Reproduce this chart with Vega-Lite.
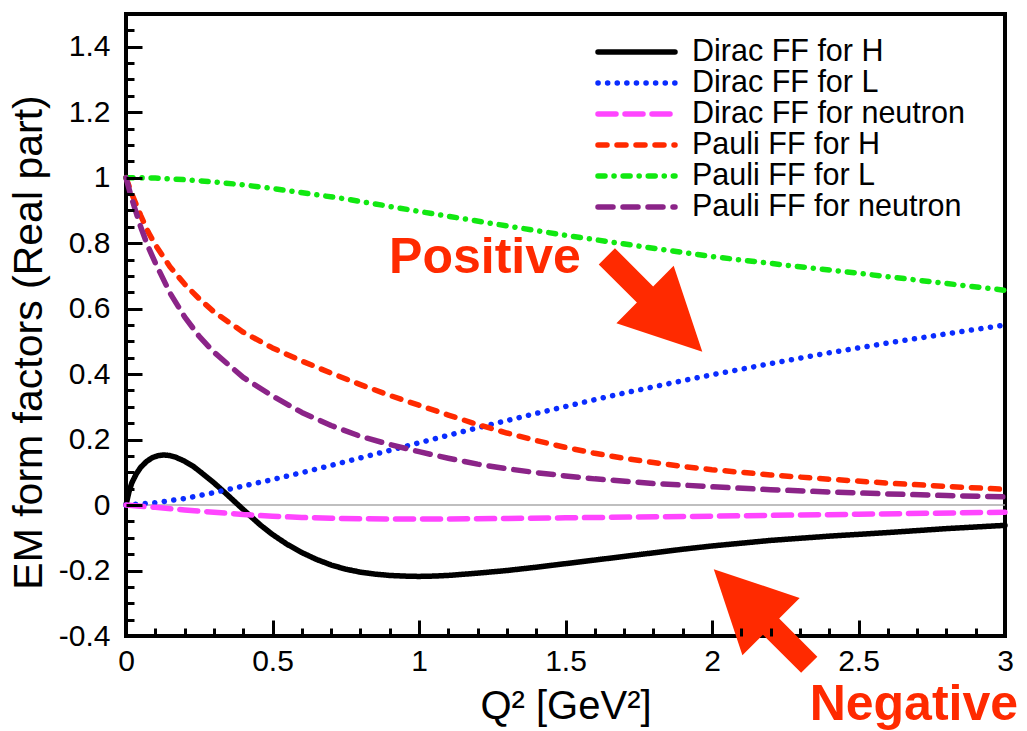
{
  "$schema": "https://vega.github.io/schema/vega-lite/v6.json",
  "width": 879,
  "height": 622,
  "autosize": {"type": "none"},
  "padding": {"left": 126, "top": 14, "right": 22, "bottom": 95},
  "background": "white",
  "config": {
    "font": "Liberation Sans",
    "view": {"stroke": "black", "strokeWidth": 4},
    "axis": {
      "grid": false, "domain": false, "ticks": true, "tickColor": "black", "tickWidth": 3,
      "labelFont": "Liberation Sans", "labelColor": "black",
      "titleFont": "Liberation Sans", "titleFontWeight": "normal", "titleColor": "black"
    }
  },
  "datasets": {
    "curves": [
      {"series": "Dirac FF for H", "Q2": 0, "F": 0},
      {"series": "Dirac FF for H", "Q2": 0.01, "F": 0.04},
      {"series": "Dirac FF for H", "Q2": 0.02, "F": 0.068},
      {"series": "Dirac FF for H", "Q2": 0.035, "F": 0.095},
      {"series": "Dirac FF for H", "Q2": 0.05, "F": 0.115},
      {"series": "Dirac FF for H", "Q2": 0.07, "F": 0.133},
      {"series": "Dirac FF for H", "Q2": 0.09, "F": 0.145},
      {"series": "Dirac FF for H", "Q2": 0.11, "F": 0.151},
      {"series": "Dirac FF for H", "Q2": 0.13, "F": 0.153},
      {"series": "Dirac FF for H", "Q2": 0.15, "F": 0.151},
      {"series": "Dirac FF for H", "Q2": 0.17, "F": 0.146},
      {"series": "Dirac FF for H", "Q2": 0.2, "F": 0.134},
      {"series": "Dirac FF for H", "Q2": 0.23, "F": 0.118},
      {"series": "Dirac FF for H", "Q2": 0.26, "F": 0.097},
      {"series": "Dirac FF for H", "Q2": 0.3, "F": 0.068},
      {"series": "Dirac FF for H", "Q2": 0.34, "F": 0.036},
      {"series": "Dirac FF for H", "Q2": 0.38, "F": 0.003},
      {"series": "Dirac FF for H", "Q2": 0.42, "F": -0.03},
      {"series": "Dirac FF for H", "Q2": 0.46, "F": -0.062},
      {"series": "Dirac FF for H", "Q2": 0.5, "F": -0.09},
      {"series": "Dirac FF for H", "Q2": 0.55, "F": -0.12},
      {"series": "Dirac FF for H", "Q2": 0.6, "F": -0.145},
      {"series": "Dirac FF for H", "Q2": 0.65, "F": -0.166},
      {"series": "Dirac FF for H", "Q2": 0.7, "F": -0.183},
      {"series": "Dirac FF for H", "Q2": 0.75, "F": -0.196},
      {"series": "Dirac FF for H", "Q2": 0.8, "F": -0.205},
      {"series": "Dirac FF for H", "Q2": 0.85, "F": -0.211},
      {"series": "Dirac FF for H", "Q2": 0.9, "F": -0.215},
      {"series": "Dirac FF for H", "Q2": 0.95, "F": -0.217},
      {"series": "Dirac FF for H", "Q2": 1.0, "F": -0.218},
      {"series": "Dirac FF for H", "Q2": 1.05, "F": -0.217},
      {"series": "Dirac FF for H", "Q2": 1.1, "F": -0.215},
      {"series": "Dirac FF for H", "Q2": 1.2, "F": -0.208},
      {"series": "Dirac FF for H", "Q2": 1.3, "F": -0.2},
      {"series": "Dirac FF for H", "Q2": 1.4, "F": -0.19},
      {"series": "Dirac FF for H", "Q2": 1.5, "F": -0.179},
      {"series": "Dirac FF for H", "Q2": 1.6, "F": -0.168},
      {"series": "Dirac FF for H", "Q2": 1.7, "F": -0.157},
      {"series": "Dirac FF for H", "Q2": 1.8, "F": -0.146},
      {"series": "Dirac FF for H", "Q2": 1.9, "F": -0.135},
      {"series": "Dirac FF for H", "Q2": 2.0, "F": -0.125},
      {"series": "Dirac FF for H", "Q2": 2.2, "F": -0.108},
      {"series": "Dirac FF for H", "Q2": 2.4, "F": -0.095},
      {"series": "Dirac FF for H", "Q2": 2.6, "F": -0.084},
      {"series": "Dirac FF for H", "Q2": 2.8, "F": -0.072},
      {"series": "Dirac FF for H", "Q2": 3.0, "F": -0.062},

      {"series": "Dirac FF for L", "Q2": 0, "F": 0},
      {"series": "Dirac FF for L", "Q2": 0.1, "F": 0.007},
      {"series": "Dirac FF for L", "Q2": 0.2, "F": 0.02},
      {"series": "Dirac FF for L", "Q2": 0.3, "F": 0.038},
      {"series": "Dirac FF for L", "Q2": 0.4, "F": 0.058},
      {"series": "Dirac FF for L", "Q2": 0.5, "F": 0.078},
      {"series": "Dirac FF for L", "Q2": 0.6, "F": 0.099},
      {"series": "Dirac FF for L", "Q2": 0.7, "F": 0.121},
      {"series": "Dirac FF for L", "Q2": 0.8, "F": 0.144},
      {"series": "Dirac FF for L", "Q2": 0.9, "F": 0.167},
      {"series": "Dirac FF for L", "Q2": 1.0, "F": 0.19},
      {"series": "Dirac FF for L", "Q2": 1.1, "F": 0.213},
      {"series": "Dirac FF for L", "Q2": 1.2, "F": 0.236},
      {"series": "Dirac FF for L", "Q2": 1.3, "F": 0.258},
      {"series": "Dirac FF for L", "Q2": 1.4, "F": 0.28},
      {"series": "Dirac FF for L", "Q2": 1.5, "F": 0.301},
      {"series": "Dirac FF for L", "Q2": 1.6, "F": 0.322},
      {"series": "Dirac FF for L", "Q2": 1.7, "F": 0.342},
      {"series": "Dirac FF for L", "Q2": 1.8, "F": 0.361},
      {"series": "Dirac FF for L", "Q2": 1.9, "F": 0.38},
      {"series": "Dirac FF for L", "Q2": 2.0, "F": 0.398},
      {"series": "Dirac FF for L", "Q2": 2.2, "F": 0.432},
      {"series": "Dirac FF for L", "Q2": 2.4, "F": 0.465},
      {"series": "Dirac FF for L", "Q2": 2.6, "F": 0.495},
      {"series": "Dirac FF for L", "Q2": 2.8, "F": 0.523},
      {"series": "Dirac FF for L", "Q2": 3.0, "F": 0.55},

      {"series": "Dirac FF for neutron", "Q2": 0, "F": 0},
      {"series": "Dirac FF for neutron", "Q2": 0.1, "F": -0.007},
      {"series": "Dirac FF for neutron", "Q2": 0.2, "F": -0.015},
      {"series": "Dirac FF for neutron", "Q2": 0.3, "F": -0.022},
      {"series": "Dirac FF for neutron", "Q2": 0.4, "F": -0.029},
      {"series": "Dirac FF for neutron", "Q2": 0.5, "F": -0.034},
      {"series": "Dirac FF for neutron", "Q2": 0.6, "F": -0.038},
      {"series": "Dirac FF for neutron", "Q2": 0.7, "F": -0.04},
      {"series": "Dirac FF for neutron", "Q2": 0.8, "F": -0.042},
      {"series": "Dirac FF for neutron", "Q2": 1.0, "F": -0.043},
      {"series": "Dirac FF for neutron", "Q2": 1.2, "F": -0.042},
      {"series": "Dirac FF for neutron", "Q2": 1.5, "F": -0.039},
      {"series": "Dirac FF for neutron", "Q2": 2.0, "F": -0.034},
      {"series": "Dirac FF for neutron", "Q2": 2.5, "F": -0.028},
      {"series": "Dirac FF for neutron", "Q2": 3.0, "F": -0.022},

      {"series": "Pauli FF for H", "Q2": 0, "F": 1.0},
      {"series": "Pauli FF for H", "Q2": 0.02, "F": 0.95},
      {"series": "Pauli FF for H", "Q2": 0.05, "F": 0.885},
      {"series": "Pauli FF for H", "Q2": 0.075, "F": 0.835},
      {"series": "Pauli FF for H", "Q2": 0.1, "F": 0.795},
      {"series": "Pauli FF for H", "Q2": 0.15, "F": 0.728},
      {"series": "Pauli FF for H", "Q2": 0.2, "F": 0.675},
      {"series": "Pauli FF for H", "Q2": 0.25, "F": 0.63},
      {"series": "Pauli FF for H", "Q2": 0.3, "F": 0.59},
      {"series": "Pauli FF for H", "Q2": 0.4, "F": 0.528},
      {"series": "Pauli FF for H", "Q2": 0.5, "F": 0.48},
      {"series": "Pauli FF for H", "Q2": 0.6, "F": 0.44},
      {"series": "Pauli FF for H", "Q2": 0.7, "F": 0.403},
      {"series": "Pauli FF for H", "Q2": 0.8, "F": 0.368},
      {"series": "Pauli FF for H", "Q2": 0.9, "F": 0.335},
      {"series": "Pauli FF for H", "Q2": 1.0, "F": 0.305},
      {"series": "Pauli FF for H", "Q2": 1.1, "F": 0.275},
      {"series": "Pauli FF for H", "Q2": 1.2, "F": 0.246},
      {"series": "Pauli FF for H", "Q2": 1.3, "F": 0.22},
      {"series": "Pauli FF for H", "Q2": 1.4, "F": 0.197},
      {"series": "Pauli FF for H", "Q2": 1.5, "F": 0.176},
      {"series": "Pauli FF for H", "Q2": 1.6, "F": 0.158},
      {"series": "Pauli FF for H", "Q2": 1.7, "F": 0.143},
      {"series": "Pauli FF for H", "Q2": 1.8, "F": 0.13},
      {"series": "Pauli FF for H", "Q2": 1.9, "F": 0.118},
      {"series": "Pauli FF for H", "Q2": 2.0, "F": 0.108},
      {"series": "Pauli FF for H", "Q2": 2.2, "F": 0.092},
      {"series": "Pauli FF for H", "Q2": 2.4, "F": 0.079},
      {"series": "Pauli FF for H", "Q2": 2.6, "F": 0.067},
      {"series": "Pauli FF for H", "Q2": 2.8, "F": 0.057},
      {"series": "Pauli FF for H", "Q2": 3.0, "F": 0.048},

      {"series": "Pauli FF for L", "Q2": 0, "F": 1.0},
      {"series": "Pauli FF for L", "Q2": 0.1, "F": 0.999},
      {"series": "Pauli FF for L", "Q2": 0.2, "F": 0.994},
      {"series": "Pauli FF for L", "Q2": 0.3, "F": 0.987},
      {"series": "Pauli FF for L", "Q2": 0.4, "F": 0.978},
      {"series": "Pauli FF for L", "Q2": 0.5, "F": 0.967},
      {"series": "Pauli FF for L", "Q2": 0.75, "F": 0.935},
      {"series": "Pauli FF for L", "Q2": 1.0, "F": 0.897},
      {"series": "Pauli FF for L", "Q2": 1.25, "F": 0.86},
      {"series": "Pauli FF for L", "Q2": 1.5, "F": 0.824},
      {"series": "Pauli FF for L", "Q2": 1.75, "F": 0.791},
      {"series": "Pauli FF for L", "Q2": 2.0, "F": 0.759},
      {"series": "Pauli FF for L", "Q2": 2.25, "F": 0.733},
      {"series": "Pauli FF for L", "Q2": 2.5, "F": 0.708},
      {"series": "Pauli FF for L", "Q2": 2.75, "F": 0.682},
      {"series": "Pauli FF for L", "Q2": 3.0, "F": 0.656},

      {"series": "Pauli FF for neutron", "Q2": 0, "F": 1.0},
      {"series": "Pauli FF for neutron", "Q2": 0.02, "F": 0.935},
      {"series": "Pauli FF for neutron", "Q2": 0.05, "F": 0.85},
      {"series": "Pauli FF for neutron", "Q2": 0.075, "F": 0.79},
      {"series": "Pauli FF for neutron", "Q2": 0.1, "F": 0.74},
      {"series": "Pauli FF for neutron", "Q2": 0.15, "F": 0.648},
      {"series": "Pauli FF for neutron", "Q2": 0.2, "F": 0.575},
      {"series": "Pauli FF for neutron", "Q2": 0.25, "F": 0.515},
      {"series": "Pauli FF for neutron", "Q2": 0.3, "F": 0.467},
      {"series": "Pauli FF for neutron", "Q2": 0.4, "F": 0.39},
      {"series": "Pauli FF for neutron", "Q2": 0.5, "F": 0.333},
      {"series": "Pauli FF for neutron", "Q2": 0.6, "F": 0.283},
      {"series": "Pauli FF for neutron", "Q2": 0.7, "F": 0.243},
      {"series": "Pauli FF for neutron", "Q2": 0.8, "F": 0.21},
      {"series": "Pauli FF for neutron", "Q2": 0.9, "F": 0.185},
      {"series": "Pauli FF for neutron", "Q2": 1.0, "F": 0.163},
      {"series": "Pauli FF for neutron", "Q2": 1.1, "F": 0.143},
      {"series": "Pauli FF for neutron", "Q2": 1.2, "F": 0.125},
      {"series": "Pauli FF for neutron", "Q2": 1.3, "F": 0.111},
      {"series": "Pauli FF for neutron", "Q2": 1.4, "F": 0.099},
      {"series": "Pauli FF for neutron", "Q2": 1.5, "F": 0.089},
      {"series": "Pauli FF for neutron", "Q2": 1.6, "F": 0.08},
      {"series": "Pauli FF for neutron", "Q2": 1.8, "F": 0.066},
      {"series": "Pauli FF for neutron", "Q2": 2.0, "F": 0.056},
      {"series": "Pauli FF for neutron", "Q2": 2.2, "F": 0.047},
      {"series": "Pauli FF for neutron", "Q2": 2.4, "F": 0.04},
      {"series": "Pauli FF for neutron", "Q2": 2.6, "F": 0.034},
      {"series": "Pauli FF for neutron", "Q2": 2.8, "F": 0.029},
      {"series": "Pauli FF for neutron", "Q2": 3.0, "F": 0.025}
    ]
  },
  "encoding": {
    "x": {
      "field": "Q2", "type": "quantitative",
      "scale": {"domain": [0, 3], "nice": false, "zero": false},
      "axis": {
        "title": "Q² [GeV²]",
        "values": [0,0.1,0.2,0.3,0.4,0.5,0.6,0.7,0.8,0.9,1,1.1,1.2,1.3,1.4,1.5,1.6,1.7,1.8,1.9,2,2.1,2.2,2.3,2.4,2.5,2.6,2.7,2.8,2.9,3],
        "labelExpr": "abs(datum.value*2 - round(datum.value*2)) < 0.000001 ? toString(round(datum.value*10)/10) : ''",
        "tickSize": {"condition": {"test": "abs(datum.value*2 - round(datum.value*2)) < 0.000001", "value": -16}, "value": -8},
        "zindex": 1,
        "labelOverlap": "greedy", "labelFlush": false, "labelBound": false,
        "labelFontSize": 30, "titleFontSize": 40,
        "labelPadding": 26,
        "titlePadding": 10
      }
    },
    "y": {
      "field": "F", "type": "quantitative",
      "scale": {"domain": [-0.4, 1.5], "nice": false, "zero": false},
      "axis": {
        "title": "EM form factors (Real part)",
        "values": [-0.4,-0.35,-0.3,-0.25,-0.2,-0.15,-0.1,-0.05,0,0.05,0.1,0.15,0.2,0.25,0.3,0.35,0.4,0.45,0.5,0.55,0.6,0.65,0.7,0.75,0.8,0.85,0.9,0.95,1,1.05,1.1,1.15,1.2,1.25,1.3,1.35,1.4,1.45],
        "labelExpr": "abs(datum.value*5 - round(datum.value*5)) < 0.000001 ? toString(round(datum.value*10)/10) : ''",
        "tickSize": {"condition": {"test": "abs(datum.value*5 - round(datum.value*5)) < 0.000001", "value": -16}, "value": -8},
        "zindex": 1,
        "labelOverlap": "greedy", "labelFlush": false, "labelBound": false,
        "labelFontSize": 30, "titleFontSize": 41,
        "labelPadding": 32,
        "titlePadding": 8,
        "titleY": 328
      }
    }
  },
  "layer": [
    {
      "data": {"values": [{"Q2": 0, "Q2end": 3, "F": 0}]},
      "mark": {"type": "rule", "color": "#aaaaaa", "strokeWidth": 1.5},
      "encoding": {"x2": {"field": "Q2end"}}
    },
    {
      "data": {"name": "curves"},
      "mark": {"type": "line", "strokeWidth": 5.5, "strokeCap": "round", "strokeJoin": "round"},
      "encoding": {
        "color": {
          "field": "series", "type": "nominal",
          "scale": {
            "domain": ["Dirac FF for H", "Dirac FF for L", "Dirac FF for neutron", "Pauli FF for H", "Pauli FF for L", "Pauli FF for neutron"],
            "range": ["#000000", "#0a2cff", "#ff45ff", "#ff2a00", "#11e811", "#8b2488"]
          },
          "legend": {
            "title": null, "orient": "none", "legendX": 469, "legendY": 23,
            "symbolType": "stroke", "symbolSize": 5929, "symbolStrokeWidth": 5.5,
            "labelFontSize": 30.5, "labelFont": "Liberation Sans", "labelColor": "black", "labelLimit": 0,
            "clipHeight": 30, "rowPadding": 0, "labelOffset": 14, "padding": 0,
            "encode": {"symbols": {"update": {"strokeCap": {"value": "round"}}}}
          }
        },
        "strokeDash": {
          "field": "series", "type": "nominal",
          "scale": {
            "domain": ["Dirac FF for H", "Dirac FF for L", "Dirac FF for neutron", "Pauli FF for H", "Pauli FF for L", "Pauli FF for neutron"],
            "range": [[1, 0], [0.1, 9.5], [18, 9], [9, 10], [7, 9, 0.1, 9], [15, 10]]
          },
          "legend": {
            "title": null, "orient": "none", "legendX": 469, "legendY": 23,
            "symbolType": "stroke", "symbolSize": 5929, "symbolStrokeWidth": 5.5,
            "labelFontSize": 30.5, "labelFont": "Liberation Sans", "labelColor": "black", "labelLimit": 0,
            "clipHeight": 30, "rowPadding": 0, "labelOffset": 14, "padding": 0,
            "encode": {"symbols": {"update": {"strokeCap": {"value": "round"}}}}
          }
        }
      }
    },
    {
      "data": {"values": [{"Q2": 1.225, "F": 0.708, "label": "Positive"}, {"Q2": 2.689, "F": -0.656, "label": "Negative"}]},
      "mark": {"type": "text", "font": "Liberation Sans", "fontSize": 50, "fontWeight": "bold", "color": "#ff2a00", "align": "center", "baseline": "alphabetic"},
      "encoding": {
        "text": {"field": "label", "type": "nominal"}
      }
    },
    {
      "data": {"values": [{"Q2": 1.804, "F": 0.614}]},
      "mark": {"type": "point", "shape": "M-1,-0.17L-0.2,-0.17L-0.2,-0.6L1,0L-0.2,0.6L-0.2,0.17L-1,0.17Z", "size": 18225, "angle": 45, "filled": true, "color": "#ff2a00", "opacity": 1}
    },
    {
      "data": {"values": [{"Q2": 2.169, "F": -0.342}]},
      "mark": {"type": "point", "shape": "M-1,-0.17L-0.2,-0.17L-0.2,-0.6L1,0L-0.2,0.6L-0.2,0.17L-1,0.17Z", "size": 18225, "angle": 225, "filled": true, "color": "#ff2a00", "opacity": 1}
    }
  ]
}
